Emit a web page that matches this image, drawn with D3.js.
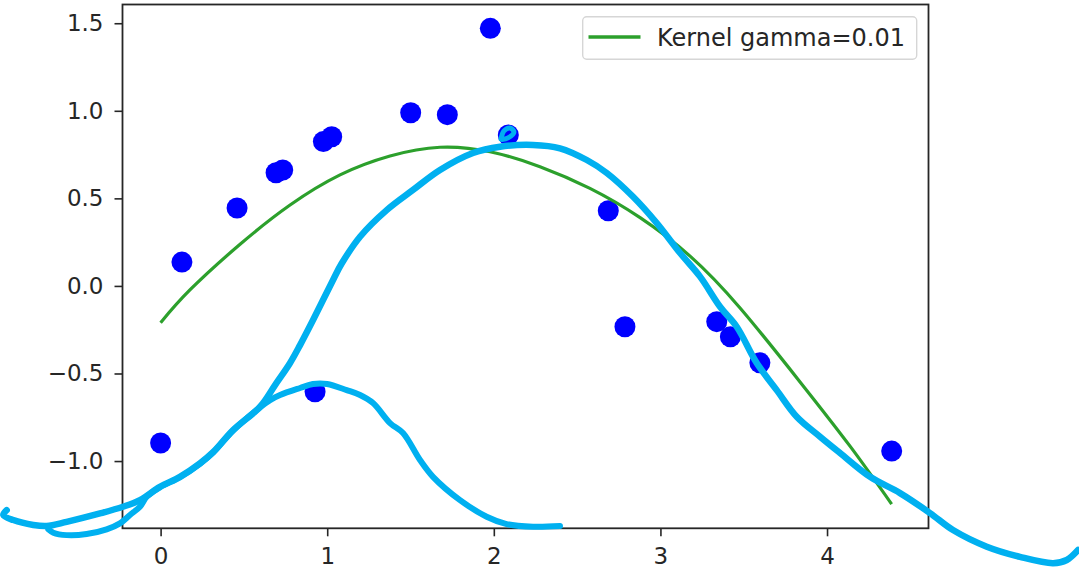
<!DOCTYPE html>
<html>
<head>
<meta charset="utf-8">
<script src="https://cdn.jsdelivr.net/npm/d3@7"></script>
<style>
  html, body { margin: 0; padding: 0; background: #ffffff; }
  svg { display: block; font-family: "DejaVu Sans", sans-serif; }
</style>
</head>
<body>
<svg id="chart" width="1079" height="571"></svg>
<script>
// Observed samples (blue dots)
const sampleX = [0.000, 0.128, 0.459, 0.693, 0.733, 0.927, 0.977, 1.027, 1.501, 1.721,
                 1.979, 2.087, 2.687, 2.787, 3.338, 3.420, 3.597, 4.388];
const sampleY = [-0.897, 0.136, 0.445, 0.646, 0.662, -0.604, 0.824, 0.852, 0.989, 0.978,
                 1.471, 0.862, 0.429, -0.233, -0.204, -0.290, -0.439, -0.943];

// Kernel ridge prediction (green curve)
const fitX = [0.000, 0.176, 0.477, 0.777, 1.077, 1.377, 1.677, 1.977, 2.277, 2.577,
              2.878, 3.178, 3.478, 3.838, 4.138, 4.388];
const fitY = [-0.210, -0.023, 0.238, 0.462, 0.634, 0.742, 0.792, 0.766, 0.681, 0.557,
              0.390, 0.170, -0.126, -0.548, -0.915, -1.246];

const fitLabel = "Kernel gamma=0.01";
const xTicks = [0, 1, 2, 3, 4];
const yTicks = [-1.0, -0.5, 0.0, 0.5, 1.0, 1.5];
const xDomain = [-0.2287, 4.609];
const yDomain = [-1.384, 1.607];

// Freehand pen strokes, in data units (they run past the axes)
const penArch = [
  [-0.924, -1.280], [-0.944, -1.308], [-0.884, -1.337], [-0.764, -1.365], [-0.684, -1.371],
  [-0.564, -1.347], [-0.364, -1.299], [-0.226, -1.261], [-0.124, -1.223], [-0.004, -1.147],
  [0.116, -1.090], [0.236, -1.013], [0.315, -0.949], [0.435, -0.823], [0.597, -0.690],
  [0.687, -0.566], [0.777, -0.440], [0.837, -0.338], [0.915, -0.195], [1.035, 0.034],
  [1.085, 0.125], [1.197, 0.281], [1.357, 0.433], [1.515, 0.548], [1.677, 0.662],
  [1.875, 0.759], [2.037, 0.795], [2.235, 0.805], [2.397, 0.786], [2.558, 0.719],
  [2.678, 0.645], [2.836, 0.509], [2.978, 0.359], [3.118, 0.188], [3.238, 0.053],
  [3.358, -0.119], [3.458, -0.233], [3.578, -0.440], [3.698, -0.595], [3.818, -0.747],
  [3.958, -0.861], [4.078, -0.954], [4.258, -1.090], [4.438, -1.183], [4.618, -1.297],
  [4.756, -1.394], [4.959, -1.489], [5.158, -1.547], [5.357, -1.583], [5.439, -1.565],
  [5.507, -1.508]
];
const penHump = [
  [-0.674, -1.390], [-0.644, -1.409], [-0.564, -1.423], [-0.444, -1.417], [-0.324, -1.390],
  [-0.244, -1.356], [-0.184, -1.308], [-0.124, -1.261], [-0.083, -1.204], [-0.004, -1.150],
  [0.116, -1.093], [0.236, -1.016], [0.315, -0.952], [0.435, -0.826], [0.597, -0.693],
  [0.657, -0.652], [0.717, -0.623], [0.837, -0.583], [0.915, -0.560], [0.999, -0.560],
  [1.117, -0.595], [1.197, -0.623], [1.275, -0.669], [1.377, -0.783], [1.455, -0.840],
  [1.557, -0.994], [1.635, -1.090], [1.797, -1.223], [1.957, -1.318], [2.077, -1.360],
  [2.235, -1.375], [2.397, -1.371]
];
const penTick = [
  [2.043, 0.839], [2.061, 0.885], [2.097, 0.902], [2.121, 0.879], [2.085, 0.845], [2.049, 0.836]
];

const svg = d3.select("#chart");
const margin = { left: 122.5, right: 1079 - 928.5, top: 4.5, bottom: 571 - 528.3 };
const W = 1079, H = 571;

const x = d3.scaleLinear().domain(xDomain).range([margin.left, W - margin.right]);
const y = d3.scaleLinear().domain(yDomain).range([H - margin.bottom, margin.top]);

const fontSize = 23;
const ink = "#262626";

// Axes
const xAxis = d3.axisBottom(x).tickValues(xTicks).tickFormat(d3.format("d"))
  .tickSize(8).tickPadding(11).tickSizeOuter(0);
const yAxis = d3.axisLeft(y).tickValues(yTicks).tickFormat(d3.format(".1f"))
  .tickSize(8).tickPadding(11).tickSizeOuter(0);

const gx = svg.append("g").attr("transform", `translate(0,${H - margin.bottom})`).call(xAxis);
const gy = svg.append("g").attr("transform", `translate(${margin.left},0)`).call(yAxis);
[gx, gy].forEach(g => {
  g.select(".domain").remove();
  g.selectAll(".tick line").attr("stroke", ink).attr("stroke-width", 1.6);
  g.selectAll(".tick text").attr("fill", ink).style("font-size", fontSize + "px")
    .style("font-family", "'DejaVu Sans', sans-serif");
});

// Scatter of samples
const samples = sampleX.map((d, i) => ({ x: d, y: sampleY[i] }));
svg.append("g").selectAll("circle").data(samples).join("circle")
  .attr("cx", d => x(d.x)).attr("cy", d => y(d.y)).attr("r", 10.5)
  .attr("fill", "#0000ff");

// Fitted curve
const fit = fitX.map((d, i) => [d, fitY[i]]);
svg.append("path").datum(fit)
  .attr("d", d3.line().x(d => x(d[0])).y(d => y(d[1])).curve(d3.curveNatural))
  .attr("fill", "none").attr("stroke", "#2ca02c").attr("stroke-width", 3.2);

// Frame
svg.append("rect")
  .attr("x", x(xDomain[0])).attr("y", y(yDomain[1]))
  .attr("width", x(xDomain[1]) - x(xDomain[0])).attr("height", y(yDomain[0]) - y(yDomain[1]))
  .attr("fill", "none").attr("stroke", ink).attr("stroke-width", 1.8);

// Legend
const lg = svg.append("g");
lg.append("rect").attr("x", 582.7).attr("y", 16.7).attr("width", 334).attr("height", 42.6)
  .attr("rx", 4).attr("fill", "#ffffff").attr("fill-opacity", 0.8)
  .attr("stroke", "#d6d6d6").attr("stroke-width", 1.4);
lg.append("line").attr("x1", 588.5).attr("x2", 640.5).attr("y1", 37).attr("y2", 37)
  .attr("stroke", "#2ca02c").attr("stroke-width", 3.4);
lg.append("text").attr("x", 657).attr("y", 45.5).text(fitLabel)
  .attr("fill", ink).style("font-size", "24px");

// Freehand pen strokes on top
const pen = d3.line().x(d => x(d[0])).y(d => y(d[1])).curve(d3.curveCatmullRom.alpha(0.5));
const penLayer = svg.append("g").attr("fill", "none").attr("stroke", "#00b0f0")
  .attr("stroke-linecap", "round").attr("stroke-linejoin", "round");
penLayer.append("path").datum(penArch).attr("d", pen).attr("stroke-width", 6.5);
penLayer.append("path").datum(penHump).attr("d", pen).attr("stroke-width", 6);
penLayer.append("path").datum(penTick).attr("d", pen).attr("stroke-width", 5);
</script>
</body>
</html>
